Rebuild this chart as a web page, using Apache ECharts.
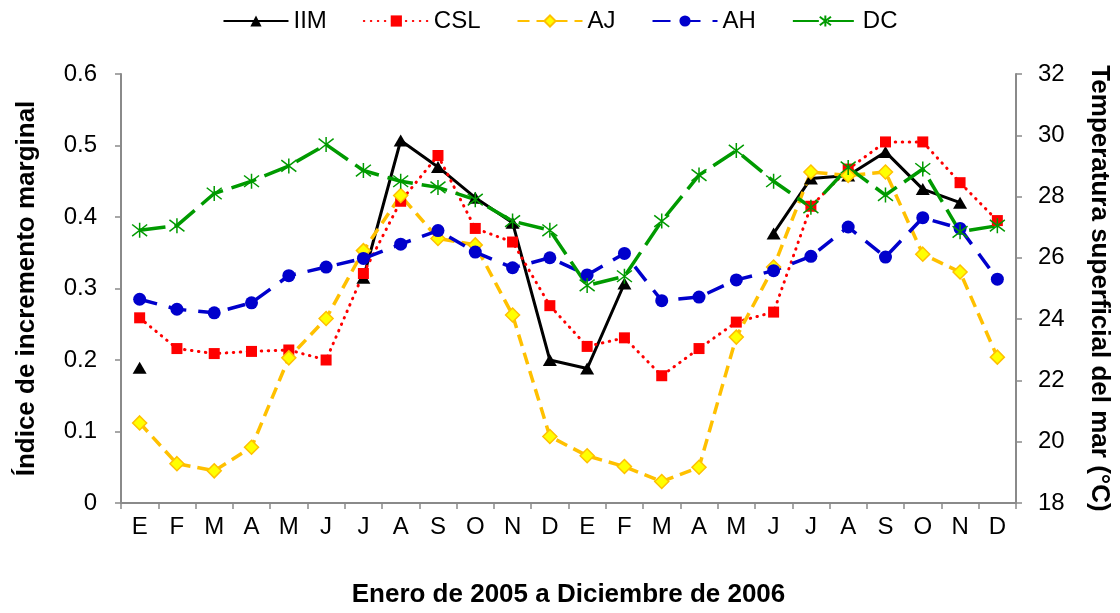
<!DOCTYPE html>
<html>
<head>
<meta charset="utf-8">
<script src="https://cdn.jsdelivr.net/npm/echarts@6/dist/echarts.min.js"></script>
<style>
  html, body { margin: 0; padding: 0; background: #fff; }
  #chart { width: 1120px; height: 613px; }
</style>
</head>
<body>
<div id="chart"></div>
<script>
// Months from January 2005 to December 2006
const months = ['E','F','M','A','M','J','J','A','S','O','N','D',
                'E','F','M','A','M','J','J','A','S','O','N','D'];

// Marginal increment index (left axis)
const iim = [0.189, null, null, null, null, null, 0.315, 0.507, 0.470, 0.427, 0.392, 0.200,
             0.188, 0.307, null, null, null, 0.377, 0.454, 0.458, 0.491, 0.439, 0.420, null];
const csl = [0.259, 0.216, 0.209, 0.212, 0.214, 0.200, 0.321, 0.422, 0.486, 0.384, 0.365, 0.276,
             0.219, 0.231, 0.178, 0.216, 0.253, 0.267, 0.415, 0.467, 0.505, 0.505, 0.448, 0.395];
const aj  = [0.112, 0.055, 0.045, 0.078, 0.203, 0.258, 0.353, 0.430, 0.370, 0.361, 0.263, 0.093,
             0.066, 0.051, 0.030, 0.050, 0.232, 0.330, 0.463, 0.458, 0.463, 0.348, 0.323, 0.204];
const ah  = [0.285, 0.271, 0.266, 0.280, 0.318, 0.330, 0.342, 0.362, 0.381, 0.351, 0.329, 0.343,
             0.319, 0.349, 0.283, 0.288, 0.312, 0.325, 0.345, 0.386, 0.344, 0.399, 0.384, 0.313];

// Sea surface temperature, °C (right axis)
const dc  = [26.9, 27.05, 28.1, 28.5, 29.0, 29.7, 28.85, 28.5, 28.3, 27.9, 27.2, 26.9,
             25.1, 25.4, 27.2, 28.7, 29.5, 28.5, 27.65, 28.95, 28.05, 28.9, 26.85, 27.05];

const FONT = 'Liberation Sans, Arial, sans-serif';
const AXIS_GREY = '#8a8a8a';
const ASTERISK = 'path://M0,0L10,10M10,0L0,10M5,-1.5L5,11.5';

const chart = echarts.init(document.getElementById('chart'), null, { renderer: 'canvas' });

const axisCommon = {
  axisLine: { show: true, lineStyle: { color: AXIS_GREY, width: 2 } },
  axisTick: { show: true, inside: false, length: 6, lineStyle: { color: AXIS_GREY, width: 1.5 } },
  splitLine: { show: false },
  axisLabel: { color: '#000', fontSize: 24, fontFamily: FONT }
};
const titleStyle = { color: '#000', fontSize: 26, fontWeight: 'bold', fontFamily: FONT };

chart.setOption({
  animation: false,
  backgroundColor: '#fff',
  textStyle: { fontFamily: FONT },
  legend: {
    top: 4,
    left: 'center',
    itemWidth: 65,
    itemHeight: 14,
    itemGap: 36,
    textStyle: { color: '#000', fontSize: 24, fontFamily: FONT },
    data: ['IIM', 'CSL', 'AJ', 'AH', 'DC']
  },
  grid: { left: 121, right: 103, top: 74, bottom: 103, containLabel: false },
  xAxis: {
    type: 'category',
    data: months,
    boundaryGap: true,
    ...axisCommon,
    axisLabel: { ...axisCommon.axisLabel, margin: 12, interval: 0 },
    name: 'Enero de 2005 a Diciembre de 2006',
    nameLocation: 'middle',
    nameGap: 79,
    nameTextStyle: titleStyle
  },
  yAxis: [
    {
      type: 'value',
      position: 'left',
      min: 0, max: 0.6, interval: 0.1,
      ...axisCommon,
      axisLabel: { ...axisCommon.axisLabel, margin: 24 },
      name: 'Índice de incremento marginal',
      nameLocation: 'middle',
      nameGap: 81,
      nameRotate: 90,
      nameTextStyle: titleStyle
    },
    {
      type: 'value',
      position: 'right',
      min: 18, max: 32, interval: 2,
      ...axisCommon,
      axisLabel: { ...axisCommon.axisLabel, margin: 22 },
      name: 'Temperatura superficial del mar (°C)',
      nameLocation: 'middle',
      nameGap: 70,
      nameRotate: -90,
      nameTextStyle: titleStyle
    }
  ],
  series: [
    {
      name: 'IIM', type: 'line', yAxisIndex: 0, data: iim,
      connectNulls: false,
      symbol: 'triangle', symbolSize: [14, 12],
      color: '#000',
      lineStyle: { color: '#000', width: 3, type: 'solid' },
      itemStyle: { color: '#000' }
    },
    {
      name: 'CSL', type: 'line', yAxisIndex: 0, data: csl,
      symbol: 'rect', symbolSize: 11,
      color: '#ff0000',
      lineStyle: { color: '#ff0000', width: 3, type: [0.5, 6.5], cap: 'round' },
      itemStyle: { color: '#ff0000' }
    },
    {
      name: 'AJ', type: 'line', yAxisIndex: 0, data: aj,
      symbol: 'diamond', symbolSize: 14,
      color: '#ffc000',
      lineStyle: { color: '#ffc000', width: 3.5, type: [12, 7] },
      itemStyle: { color: '#ffff00', borderColor: '#ffc000', borderWidth: 1.5 }
    },
    {
      name: 'AH', type: 'line', yAxisIndex: 0, data: ah,
      symbol: 'circle', symbolSize: 13,
      color: '#0000cc',
      lineStyle: { color: '#0000cc', width: 3.5, type: [18, 12] },
      itemStyle: { color: '#0000cc' }
    },
    {
      name: 'DC', type: 'line', yAxisIndex: 1, data: dc,
      symbol: ASTERISK, symbolSize: 15,
      color: '#009a00',
      lineStyle: { color: '#009a00', width: 3.5, type: [26, 9] },
      itemStyle: { color: '#009a00', borderColor: '#009a00', borderWidth: 1.5 }
    }
  ]
});
</script>
</body>
</html>
